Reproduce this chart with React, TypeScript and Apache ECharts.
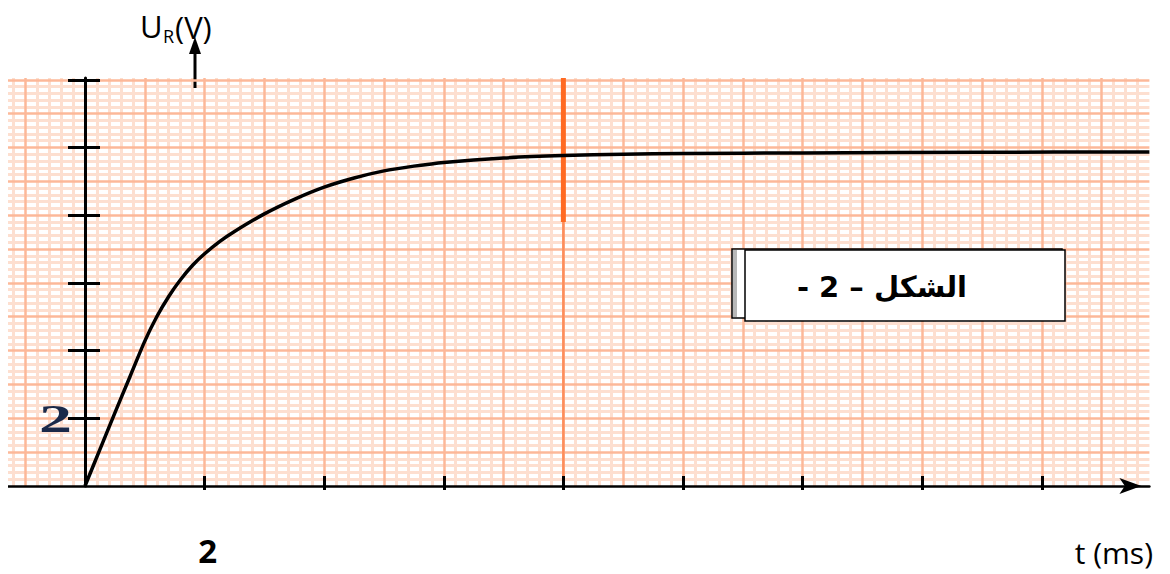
import React, { useEffect, useRef } from "react";
import * as echarts from "echarts";

// ---- data ----
const tValues = [0, 0.25, 0.5, 0.75, 1.0, 1.2, 1.4, 1.6, 1.8, 2.0, 2.25, 2.5, 3.0, 3.5, 4.0, 4.5, 5.0, 5.5, 6.0, 7.0, 8.0, 9.0, 10.0, 12.0, 15.0, 17.8];
const uValues = [0, 1.08, 2.16, 3.22, 4.28, 5.0, 5.6, 6.1, 6.52, 6.86, 7.22, 7.52, 8.04, 8.47, 8.83, 9.1, 9.31, 9.45, 9.56, 9.69, 9.76, 9.8, 9.82, 9.84, 9.86, 9.87];
const xTickValues = [2, 4, 6, 8, 10, 12, 14, 16];
const xLabelValues = [2];
const yTickValues = [2, 4, 6, 8, 10, 12];
const yLabelValues = [2];
const markerTime = [8, 8];
const markerThickU = [12.05, 7.8];
const markerThinU = [7.8, 0];
const xMin = -2;
const xMax = 17.8;
const yMin = 0;
const yMax = 12.05;
const figureTitle = "- 2 – الشكل";
const xName = "t (ms)";

const paperMajor = "#fcb899";
const paperMinor = "#fddfd0";

export default function App() {
  const ref = useRef<HTMLDivElement>(null);
  useEffect(() => {
    document.body.style.margin = "0";
    if (!ref.current) return;
    const chart = echarts.init(ref.current, undefined, { renderer: "svg" });
    const baseX = { type: "value", min: xMin, max: xMax, interval: 1, gridIndex: 0, position: "bottom" };
    const baseY = { type: "value", min: yMin, max: yMax, interval: 1, gridIndex: 0, position: "left" };
    const off = { show: false };
    const txt = (align: string, valign: string) => ({ textAlign: align, textVerticalAlign: valign, align, verticalAlign: valign });
    chart.setOption({
      animation: false,
      grid: { left: -34.6, right: 20.6, top: 78.1, bottom: 88, show: true, backgroundColor: "#ffffff", borderWidth: 0, outerBoundsMode: "none", containLabel: false },
      xAxis: [
        { ...baseX, z: 0, axisLine: { show: false, onZero: false }, axisTick: off, axisLabel: off, splitLine: off,
          minorTick: { show: false, splitNumber: 5 }, minorSplitLine: { show: true, lineStyle: { color: paperMinor, width: 3 } } },
        { ...baseX, z: 1, axisLine: { show: false, onZero: false }, axisTick: off, axisLabel: off,
          splitLine: { show: true, showMinLine: false, showMaxLine: false, lineStyle: { color: paperMajor, width: 2.5 } } },
        { ...baseX, z: 6, axisLine: { show: true, onZero: false, symbol: ["none", "arrow"], symbolSize: [12, 22], symbolOffset: [0, -8], lineStyle: { color: "#000", width: 2.5 } },
          axisTick: { show: true, customValues: xTickValues, inside: true, length: 10, lineStyle: { color: "#000", width: 3 } },
          axisLabel: { show: true, customValues: xLabelValues, margin: 64, verticalAlign: "middle", fontSize: 33, fontWeight: "bold", color: "#000", fontFamily: "Open Sans", padding: [0, 0, 0, 6] },
          splitLine: off },
        { ...baseX, z: 6, axisLine: { show: false, onZero: false },
          axisTick: { show: true, customValues: xTickValues, inside: false, length: 4, lineStyle: { color: "#000", width: 3 } },
          axisLabel: off, splitLine: off },
      ],
      yAxis: [
        { ...baseY, z: 0, axisLine: { show: false, onZero: false }, axisTick: off, axisLabel: off, splitLine: off,
          minorTick: { show: false, splitNumber: 5 }, minorSplitLine: { show: true, lineStyle: { color: paperMinor, width: 3 } } },
        { ...baseY, z: 1, axisLine: { show: false, onZero: false }, axisTick: off, axisLabel: off,
          splitLine: { show: true, showMinLine: false, showMaxLine: false, lineStyle: { color: paperMajor, width: 2.5 } } },
        { ...baseY, z: 6, axisLine: { show: true, onZero: true, onZeroAxisIndex: 0, lineStyle: { color: "#000", width: 3 } },
          axisTick: { show: true, customValues: yTickValues, inside: false, length: 17, lineStyle: { color: "#000", width: 3 } },
          axisLabel: off, splitLine: off },
        { ...baseY, z: 6, axisLine: { show: false, onZero: true, onZeroAxisIndex: 0 },
          axisTick: { show: true, customValues: yTickValues, inside: true, length: 15, lineStyle: { color: "#000", width: 3 } },
          axisLabel: off, splitLine: off },
      ],
      series: [
        { type: "line", z: 2, symbol: "none", silent: true, data: markerTime.map((t, i) => [t, markerThickU[i]]),
          lineStyle: { color: "#ff6a22", width: 5 } },
        { type: "line", z: 2, symbol: "none", silent: true, data: markerTime.map((t, i) => [t, markerThinU[i]]),
          lineStyle: { color: "#fd8d5a", width: 2.5 } },
        { type: "line", z: 5, symbol: "none", smooth: 0.3, data: tValues.map((t, i) => [t, uValues[i]]),
          lineStyle: { color: "#000", width: 3.5 } },
      ],
    });
    // y tick label placed through the chart's own scales
    const yLabelGraphics = yLabelValues.map((v) => {
      const p = chart.convertToPixel({ xAxisIndex: 0, yAxisIndex: 0 }, [0, v]) as number[];
      return { type: "text", z: 20, x: p[0] - 13, y: p[1], scaleX: 1.65,
        style: { text: String(v), fontSize: 40, fontWeight: "bold", fontFamily: "Liberation Serif", fill: "#1b2a4a", ...txt("right", "middle") } };
    });
    chart.setOption({
      graphic: [
        { type: "rect", z: 100, shape: { x: 0, y: 70, width: 8, height: 430 }, style: { fill: "#ffffff" } },
        { type: "line", shape: { x1: 195, y1: 88, x2: 195, y2: 52 }, style: { stroke: "#000", lineWidth: 3 } },
        { type: "polygon", shape: { points: [[195, 37], [189, 54], [201, 54]] }, style: { fill: "#000" } },
        { type: "text", x: 140, y: 26, style: { text: "U", fontSize: 31, fontFamily: "Open Sans", fill: "#000", ...txt("left", "middle") } },
        { type: "text", x: 163, y: 36, style: { text: "R", fontSize: 18, fontFamily: "Open Sans", fill: "#000", ...txt("left", "middle") } },
        { type: "text", x: 175, y: 27, style: { text: "(V)", fontSize: 31, fontFamily: "Open Sans", fill: "#000", ...txt("left", "middle") } },
        { type: "text", x: 1153, y: 552, style: { text: xName, fontSize: 30, fontFamily: "Open Sans", fill: "#000", ...txt("right", "middle") } },
        { type: "rect", z: 10, shape: { x: 732, y: 249, width: 330, height: 69 }, style: { fill: "#ffffff", stroke: "#000", lineWidth: 1.5 } },
        { type: "rect", z: 10, shape: { x: 733, y: 250, width: 4, height: 67 }, style: { fill: "#b8b8b8" } },
        { type: "rect", z: 11, shape: { x: 745, y: 250, width: 320, height: 71 }, style: { fill: "#ffffff", stroke: "#000", lineWidth: 1.5 } },
        { type: "text", z: 12, x: 882, y: 287, style: { text: figureTitle, fontSize: 29, fontWeight: "bold", fontFamily: "DejaVu Sans", fill: "#000", ...txt("center", "middle") } },
        ...yLabelGraphics,
      ],
    });
    return () => chart.dispose();
  }, []);
  return <div ref={ref} style={{ width: 1170, height: 574 }} />;
}
